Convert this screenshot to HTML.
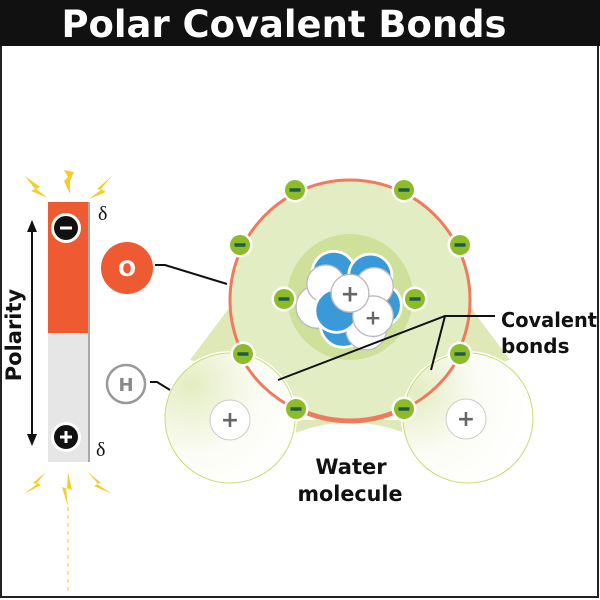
<!DOCTYPE html>
<html><head><style>html,body{margin:0;padding:0;background:#fff}svg{display:block}</style></head>
<body>
<svg width="600" height="600" viewBox="0 0 600 600" xmlns="http://www.w3.org/2000/svg" font-family="DejaVu Sans, Liberation Sans, sans-serif">
<defs>
<radialGradient id="hg" cx="0.2" cy="0.25" r="0.9">
<stop offset="0" stop-color="#dfe9b8"/><stop offset="0.6" stop-color="#fbfcf4"/><stop offset="1" stop-color="#fff"/>
</radialGradient>
<radialGradient id="hg2" cx="0.1" cy="0.3" r="0.9">
<stop offset="0" stop-color="#dfe9b8"/><stop offset="0.55" stop-color="#fbfcf4"/><stop offset="1" stop-color="#fff"/>
</radialGradient>
<g id="e"><circle r="12.5" fill="#fff"/><circle r="10" fill="#8dbb2a"/><rect x="-5.5" y="-1.7" width="11" height="3.4" fill="#1b5a4c"/></g>
<g id="p"><circle r="20" fill="#fff" stroke="#ccc" stroke-width="1"/><text y="7" text-anchor="middle" font-size="22" font-weight="bold" fill="#666">+</text></g>
</defs>
<rect x="0" y="0" width="600" height="600" fill="#fff"/>
<rect x="1" y="1" width="597" height="596" fill="none" stroke="#222" stroke-width="2"/>
<rect x="0" y="0" width="600" height="46" fill="#111"/>
<text x="284" y="37" text-anchor="middle" font-size="37" font-weight="bold" fill="#fff" textLength="445" lengthAdjust="spacingAndGlyphs">Polar Covalent Bonds</text>

<path d="M190 360 L235 300 L260 380 Z" fill="#dfe9b8"/>
<path d="M510 360 L465 300 L440 380 Z" fill="#dfe9b8"/>
<path d="M270 445 Q350 400 430 445 L420 420 L280 420 Z" fill="#dfe9b8"/>
<circle cx="350" cy="300" r="120" fill="#e3edc3" stroke="#ef7b5e" stroke-width="3"/>
<circle cx="350" cy="297" r="63" fill="#cfe09a"/>
<circle cx="230" cy="418" r="67" fill="#fff"/>
<circle cx="230" cy="418" r="65" fill="url(#hg)" fill-opacity="0.85" stroke="#c8dc70" stroke-width="1"/>
<circle cx="468" cy="418" r="67" fill="#fff"/>
<circle cx="468" cy="418" r="65" fill="url(#hg2)" fill-opacity="0.85" stroke="#c8dc70" stroke-width="1"/>
<path d="M240 355 A120 120 0 0 0 296 409" fill="none" stroke="#ef7b5e" stroke-width="3"/>
<path d="M460 355 A120 120 0 0 1 404 409" fill="none" stroke="#ef7b5e" stroke-width="3"/>
<path d="M296 409 A120 120 0 0 0 404 409" fill="none" stroke="#ef7b5e" stroke-width="3"/>
<path d="M290 455 Q350 400 410 455 L410 470 L290 470 Z" fill="#fff"/>
<use href="#p" x="230" y="420"/>
<use href="#p" x="466" y="419"/>
<g transform="translate(350,300) scale(1.35) translate(-350,-300)">
<circle cx="338" cy="280" r="16" fill="#3a9ad9" stroke="#fff" stroke-width="2"/>
<circle cx="365" cy="282" r="16" fill="#3a9ad9" stroke="#fff" stroke-width="2"/>
<circle cx="326" cy="305" r="16" fill="#fff" stroke="#bbb" stroke-width="1"/>
<circle cx="372" cy="304" r="16" fill="#3a9ad9" stroke="#fff" stroke-width="2"/>
<circle cx="345" cy="318" r="17" fill="#3a9ad9" stroke="#fff" stroke-width="2"/>
<circle cx="362" cy="322" r="15" fill="#fff" stroke="#bbb" stroke-width="1"/>
<circle cx="332" cy="288" r="14" fill="#fff" stroke="#bbb" stroke-width="1"/>
<circle cx="368" cy="290" r="14" fill="#fff" stroke="#bbb" stroke-width="1"/>
<circle cx="340" cy="308" r="16" fill="#3a9ad9" stroke="#fff" stroke-width="2"/>
<circle cx="367" cy="312" r="15" fill="#fff" stroke="#bbb" stroke-width="1"/>
<circle cx="350" cy="295" r="14" fill="#fff" stroke="#bbb" stroke-width="1"/>
<text x="350" y="301" text-anchor="middle" font-size="17" font-weight="bold" fill="#666">+</text>
<text x="367" y="318" text-anchor="middle" font-size="15" font-weight="bold" fill="#666">+</text>
</g>
<use href="#e" x="295" y="190"/><use href="#e" x="404" y="190"/>
<use href="#e" x="240" y="245"/><use href="#e" x="460" y="245"/>
<use href="#e" x="284" y="299"/><use href="#e" x="415" y="299"/>
<use href="#e" x="243" y="354"/><use href="#e" x="460" y="354"/>
<use href="#e" x="296" y="409"/><use href="#e" x="404" y="409"/>

<polyline points="155,265 165,265 227,284" fill="none" stroke="#111" stroke-width="2"/>
<polyline points="150,382 157,382 170,390" fill="none" stroke="#111" stroke-width="2"/>
<polyline points="278,380 445,316 495,316" fill="none" stroke="#111" stroke-width="2"/>
<polyline points="445,316 431,370" fill="none" stroke="#111" stroke-width="2"/>
<text x="501" y="327" font-size="20" font-weight="bold" fill="#111" textLength="96" lengthAdjust="spacingAndGlyphs">Covalent</text>
<text x="501" y="353" font-size="20" font-weight="bold" fill="#111">bonds</text>
<text x="351" y="474" text-anchor="middle" font-size="21" font-weight="bold" fill="#111">Water</text>
<text x="350" y="501" text-anchor="middle" font-size="21" font-weight="bold" fill="#111" textLength="105" lengthAdjust="spacingAndGlyphs">molecule</text>

<circle cx="127" cy="268" r="26" fill="#ee5a32"/>
<text x="127" y="276" text-anchor="middle" font-size="21" font-weight="bold" fill="#fff">O</text>
<circle cx="126" cy="384" r="19" fill="#fff" stroke="#999" stroke-width="2.5"/>
<text x="126" y="391" text-anchor="middle" font-size="18" font-weight="bold" fill="#888">H</text>

<rect x="50" y="202" width="40" height="260" fill="#aaa"/>
<rect x="48" y="202" width="40" height="131" fill="#ee5a32"/>
<rect x="48" y="333" width="40" height="129" fill="#e6e6e6"/>
<circle cx="66" cy="228" r="15" fill="#fff"/><circle cx="66" cy="228" r="12" fill="#111"/>
<rect x="60" y="226.5" width="12" height="3" fill="#fff"/>
<circle cx="66" cy="437" r="15" fill="#fff"/><circle cx="66" cy="437" r="12" fill="#111"/>
<rect x="60" y="435.5" width="12" height="3" fill="#fff"/><rect x="64.5" y="431" width="3" height="12" fill="#fff"/>
<text x="98" y="220" font-family="Liberation Serif, serif" font-size="20" fill="#111">δ</text>
<text x="96" y="456" font-family="Liberation Serif, serif" font-size="20" fill="#111">δ</text>
<line x1="32" y1="228" x2="32" y2="440" stroke="#111" stroke-width="2"/>
<path d="M32 220 L27 232 L37 232 Z" fill="#111"/>
<path d="M32 446 L27 434 L37 434 Z" fill="#111"/>
<text transform="translate(21,335) rotate(-90)" text-anchor="middle" font-size="21" font-weight="bold" fill="#111">Polarity</text>

<g fill="#f5cc2a">
<path d="M25 176 L40 187 L36 189 L48 198 L31 191 L35 189 Z"/>
<path d="M64 170 L74 172 L70 181 L70 194 L64 181 L68 177 Z"/>
<path d="M112 176 L97 189 L101 190 L89 199 L106 192 L101 189 Z"/>
<path d="M46 472 L33 483 L37 484 L24 494 L41 485 L37 483 Z"/>
<path d="M68 472 L72 490 L66 488 L68 507 L62 487 L67 489 Z"/>
<path d="M88 472 L101 483 L97 484 L112 494 L94 486 L98 484 Z"/>
</g>
<line x1="68" y1="507" x2="68" y2="592" stroke="#f5d770" stroke-width="1.5" stroke-dasharray="4,4"/>
</svg>
</body></html>
